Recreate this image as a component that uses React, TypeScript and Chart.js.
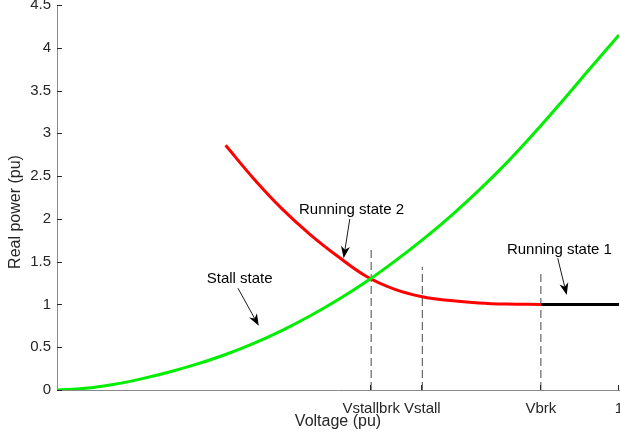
import React, { useEffect, useRef } from "react";
import { Chart, registerables } from "chart.js";

Chart.register(...registerables);

// ---- data ----
const greenV = [0, 0.05, 0.1, 0.15, 0.2, 0.25, 0.3, 0.35, 0.4, 0.45, 0.5, 0.55, 0.6, 0.65, 0.7, 0.75, 0.8, 0.85, 0.9, 0.95, 1];
const greenP = [0, 0.02, 0.065, 0.13, 0.21, 0.305, 0.415, 0.545, 0.695, 0.865, 1.055, 1.265, 1.5, 1.755, 2.03, 2.33, 2.655, 3.01, 3.385, 3.77, 4.15];

const redV = [0.3, 0.35, 0.4, 0.45, 0.5, 0.55, 0.6, 0.65, 0.7, 0.75, 0.8, 0.861];
const redP = [2.86, 2.47, 2.12, 1.82, 1.56, 1.33, 1.18, 1.09, 1.045, 1.018, 1.005, 1.0];

const blackV = [0.861, 1];
const blackP = [1, 1];

const xTickValues = [0.559, 0.65, 0.861, 1];
const xTickLabels = ["Vstallbrk", "Vstall", "Vbrk", "1"];
const dashTops = [1.68, 1.44, 1.36];

const annTexts = ["Running state 2", "Stall state", "Running state 1"];
const annTextX = [0.524, 0.325, 0.894];
const annTextY = [2.1, 1.3, 1.64];
const arrowTailX = [0.521, 0.322, 0.891];
const arrowTailY = [2.0, 1.19, 1.54];
const arrowTipX = [0.51, 0.359, 0.907];
const arrowTipY = [1.54, 0.75, 1.11];

const FONT = '"Liberation Sans", Arial, Helvetica, sans-serif';

const toXY = (xs: number[], ys: number[]) => xs.map((v, i) => ({ x: v, y: ys[i] }));

const annPlugin = {
  id: "annPlugin",
  afterDatasetsDraw(chart: any) {
    const { ctx, scales, chartArea } = chart;
    const x = scales.x;
    const y = scales.y;
    ctx.save();
    // inward tick marks
    ctx.strokeStyle = "#262626";
    ctx.lineWidth = 1;
    y.ticks.forEach((t: any) => {
      const py = Math.round(y.getPixelForValue(t.value)) + 0.5;
      ctx.beginPath();
      ctx.moveTo(chartArea.left, py);
      ctx.lineTo(chartArea.left + 5, py);
      ctx.stroke();
    });
    x.ticks.forEach((t: any) => {
      const px = Math.round(x.getPixelForValue(t.value)) - 0.5;
      ctx.beginPath();
      ctx.moveTo(px, chartArea.bottom);
      ctx.lineTo(px, chartArea.bottom - 5);
      ctx.stroke();
    });
    // arrows
    for (let i = 0; i < annTexts.length; i++) {
      const tx = x.getPixelForValue(arrowTailX[i]);
      const ty = y.getPixelForValue(arrowTailY[i]);
      const hx = x.getPixelForValue(arrowTipX[i]);
      const hy = y.getPixelForValue(arrowTipY[i]);
      const dx = hx - tx;
      const dy = hy - ty;
      const len = Math.hypot(dx, dy);
      const ux = dx / len;
      const uy = dy / len;
      const nx = -uy;
      const ny = ux;
      const L = 12;
      const W = 4.5;
      const bx = hx - ux * L;
      const by = hy - uy * L;
      const notchX = hx - ux * (L - 3.5);
      const notchY = hy - uy * (L - 3.5);
      ctx.strokeStyle = "#000";
      ctx.lineWidth = 0.9;
      ctx.beginPath();
      ctx.moveTo(tx, ty);
      ctx.lineTo(notchX, notchY);
      ctx.stroke();
      ctx.fillStyle = "#000";
      ctx.beginPath();
      ctx.moveTo(hx, hy);
      ctx.lineTo(bx + nx * W, by + ny * W);
      ctx.lineTo(notchX, notchY);
      ctx.lineTo(bx - nx * W, by - ny * W);
      ctx.closePath();
      ctx.fill();
      // text
      ctx.font = `15px ${FONT}`;
      ctx.textAlign = "center";
      ctx.textBaseline = "middle";
      ctx.fillText(annTexts[i], x.getPixelForValue(annTextX[i]), y.getPixelForValue(annTextY[i]));
    }
    // axis titles
    ctx.fillStyle = "#262626";
    ctx.font = `16px ${FONT}`;
    ctx.textAlign = "center";
    ctx.textBaseline = "middle";
    ctx.fillText("Voltage (pu)", 338, 422);
    ctx.translate(16, 212);
    ctx.rotate(-Math.PI / 2);
    ctx.fillText("Real power (pu)", 0, 0);
    ctx.restore();
  },
};

export default function App() {
  const ref = useRef<HTMLCanvasElement | null>(null);
  useEffect(() => {
    document.body.style.margin = "0";
    const canvas = ref.current;
    if (!canvas) return;
    const dashSets = xTickValues.slice(0, 3).map((v, i) => ({
      data: [
        { x: v, y: 0 },
        { x: v, y: dashTops[i] },
      ],
      borderColor: "#333333",
      borderWidth: 0.9,
      borderDash: [8, 4],
      pointRadius: 0,
      tension: 0,
      order: 4,
    }));
    const chart = new Chart(canvas, {
      type: "line",
      data: {
        datasets: [
          {
            data: toXY(greenV, greenP),
            borderColor: "#00ee00",
            borderWidth: 3,
            pointRadius: 0,
            tension: 0.4,
            order: 1,
          },
          {
            data: toXY(redV, redP),
            borderColor: "#ff0000",
            borderWidth: 3,
            pointRadius: 0,
            tension: 0.4,
            order: 2,
          },
          {
            data: toXY(blackV, blackP),
            borderColor: "#000000",
            borderWidth: 3,
            pointRadius: 0,
            order: 3,
          },
          ...dashSets,
        ] as any,
      },
      options: {
        animation: false,
        responsive: true,
        maintainAspectRatio: false,
        parsing: false as any,
        layout: { padding: { top: 5, right: 1, left: 0, bottom: 0 } },
        plugins: { legend: { display: false }, tooltip: { enabled: false } },
        scales: {
          x: {
            type: "linear",
            min: 0,
            max: 1,
            grid: { display: false, drawTicks: false },
            border: { display: true, color: "#8a8a8a", width: 1 },
            afterBuildTicks: (scale: any) => {
              scale.ticks = xTickValues.map((v) => ({ value: v }));
            },
            afterFit: (scale: any) => {
              scale.height = 56;
              scale.paddingLeft = 0;
              scale.paddingRight = 0;
            },
            ticks: {
              autoSkip: false,
              maxRotation: 0,
              padding: 10,
              color: "#262626",
              font: { family: FONT, size: 15 },
              callback: (_v: any, idx: number) => xTickLabels[idx],
            },
          },
          y: {
            type: "linear",
            min: 0,
            max: 4.5,
            grid: { display: false, drawTicks: false },
            border: { display: true, color: "#8a8a8a", width: 1 },
            afterFit: (scale: any) => {
              scale.width = 57;
              scale.paddingTop = 0;
              scale.paddingBottom = 0;
            },
            ticks: {
              stepSize: 0.5,
              padding: 6,
              color: "#262626",
              font: { family: FONT, size: 15 },
              callback: (v: any) => String(Number(v)),
            },
          },
        },
      } as any,
      plugins: [annPlugin],
    });
    return () => chart.destroy();
  }, []);
  return (
    <div style={{ width: 620, height: 446, position: "relative", background: "#fff" }}>
      <canvas ref={ref} />
    </div>
  );
}
